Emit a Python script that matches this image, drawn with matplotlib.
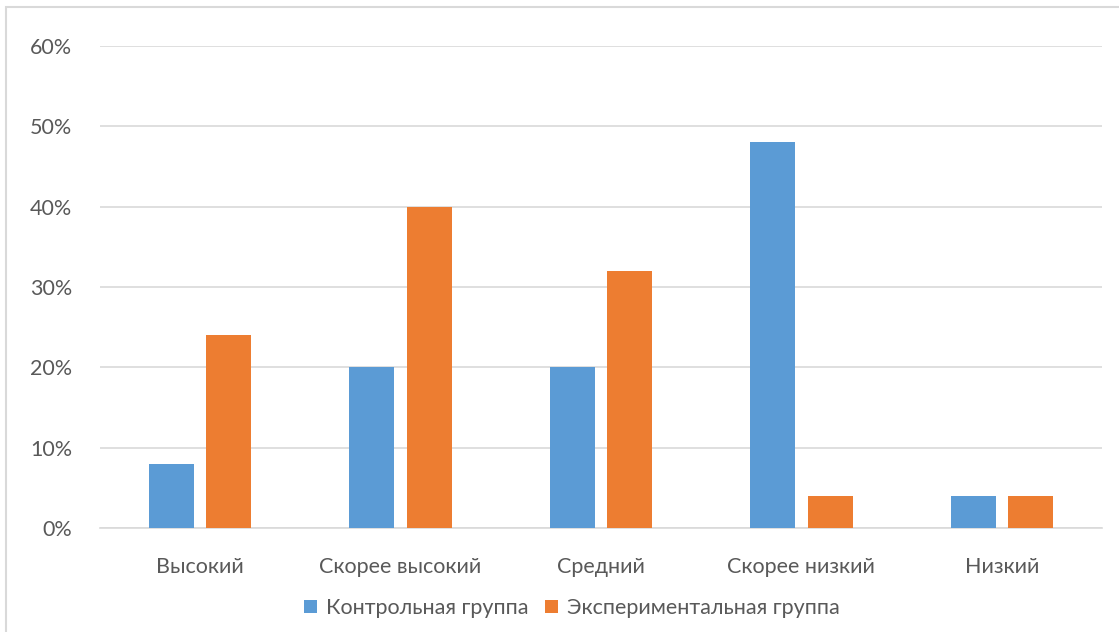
import matplotlib.pyplot as plt
from matplotlib.patches import Rectangle
from matplotlib.ticker import PercentFormatter
import numpy as np

plt.rcParams['font.family'] = ['Lato', 'DejaVu Sans']

уровни = ["Высокий", "Скорее высокий", "Средний", "Скорее низкий", "Низкий"]
контрольная = [0.08, 0.20, 0.20, 0.48, 0.04]
экспериментальная = [0.24, 0.40, 0.32, 0.04, 0.04]

СИНИЙ = "#5B9BD5"
ОРАНЖЕВЫЙ = "#ED7D31"
ТЕКСТ = "#595959"
СЕТКА = "#D9D9D9"


def построить_график():
    fig = plt.figure(figsize=(11.19, 6.32), dpi=100)
    ax = fig.add_axes([100 / 1119, 104 / 632, 1002 / 1119, 482 / 632])

    # рамка вокруг всей диаграммы
    fig.patches.append(Rectangle((6 / 1119, -0.05), 1.2, 1.05 - 7 / 632,
                                 transform=fig.transFigure, fill=False,
                                 edgecolor=СЕТКА, linewidth=1.5))

    x = np.arange(len(уровни))
    ширина = 0.225
    сдвиг = 0.143
    ax.bar(x - сдвиг, контрольная, ширина, color=СИНИЙ, label="Контрольная группа", zorder=3)
    ax.bar(x + сдвиг, экспериментальная, ширина, color=ОРАНЖЕВЫЙ,
           label="Экспериментальная группа", zorder=3)

    ax.set_xlim(-0.5, len(уровни) - 0.5)
    ax.set_ylim(0, 0.6)
    ax.set_yticks(np.arange(0, 0.61, 0.1))
    ax.yaxis.set_major_formatter(PercentFormatter(1.0, decimals=0))
    ax.set_xticks(x)
    ax.set_xticklabels(уровни)

    ax.grid(axis='y', color=СЕТКА, linewidth=1.2, zorder=0)
    for сторона in ['top', 'right', 'left']:
        ax.spines[сторона].set_visible(False)
    ax.spines['bottom'].set_color(СЕТКА)
    ax.spines['bottom'].set_linewidth(1.2)
    ax.tick_params(axis='both', length=0, colors=ТЕКСТ, labelsize=15.5)
    ax.tick_params(axis='y', pad=20)
    ax.tick_params(axis='x', pad=21)

    ax.legend(loc='center', bbox_to_anchor=(572 / 1119, 1 - 608 / 632),
              bbox_transform=fig.transFigure, ncol=2, frameon=False,
              fontsize=15.5, labelcolor=ТЕКСТ, handlelength=0.6, handleheight=0.6,
              handletextpad=0.4, columnspacing=0.8)

    fig.savefig("out.png", dpi=100)


if __name__ == "__main__":
    построить_график()
